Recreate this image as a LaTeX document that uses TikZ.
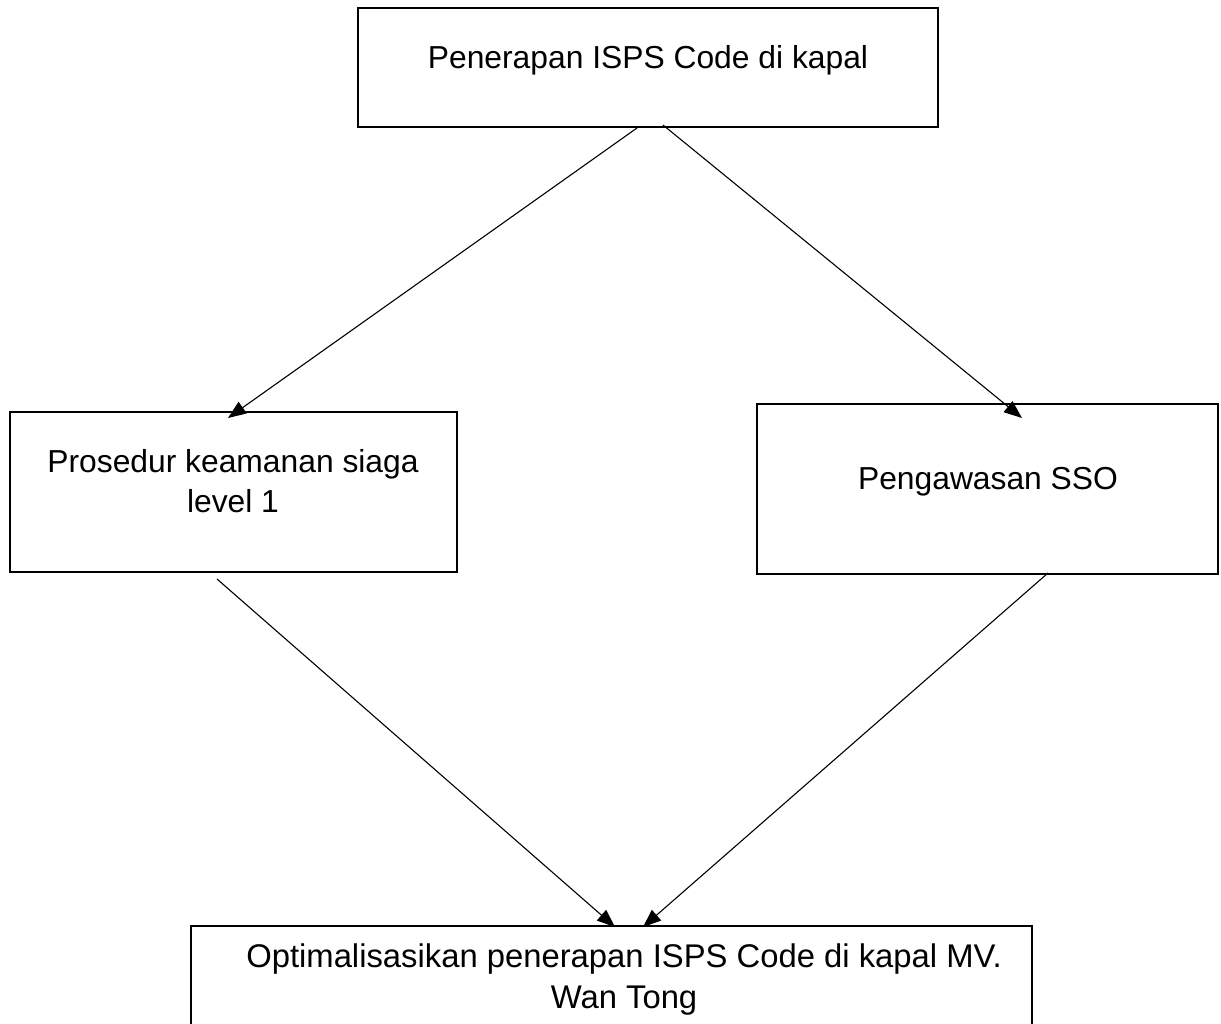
\documentclass[tikz,border=0pt]{standalone}
\usepackage{fontspec}
\setmainfont{Liberation Sans}
\usetikzlibrary{arrows.meta}
\tikzset{
  box/.style={draw=black, line width=2pt, inner sep=0pt, fill=none},
  label/.style={inner sep=0pt, anchor=base, font=\fontsize{31.8}{40}\selectfont, align=center},
  flow/.style={draw=black, line width=1.1pt, -{Triangle[length=18pt,width=14pt]}}
}
\begin{document}
\begin{tikzpicture}[x=1pt, y=-1pt]
  \useasboundingbox (0,0) rectangle (1221,1023);
  \clip (0,0) rectangle (1221,1023);
  \fill[white] (0,0) rectangle (1221,1023);

  % boxes
  \node[box, minimum width=580pt, minimum height=119pt] (top) at (648,67.5) {};
  \node[box, minimum width=447pt, minimum height=160pt] (left) at (233.5,492) {};
  \node[box, minimum width=461pt, minimum height=170pt] (right) at (987.5,489) {};
  \node[box, minimum width=841pt, minimum height=140pt] (bottom) at (611.5,996) {};

  % texts
  \node[label] (ttop) at (648,68) {Penerapan ISPS Code di kapal};
  \node[label] (tleft1) at (233,472) {Prosedur keamanan siaga};
  \node[label] (tleft2) at (233,512) {level 1};
  \node[label] (tright) at (988,489) {Pengawasan SSO};
  \node[label, font=\fontsize{32.8}{40}\selectfont] (tbot1) at (624,967) {Optimalisasikan penerapan ISPS Code di kapal MV.};
  \node[label, font=\fontsize{32.8}{40}\selectfont] (tbot2) at (624,1008) {Wan Tong};

  % connector end points
  \coordinate (s1) at (637,128);
  \coordinate (e1) at (228,418);
  \coordinate (s2) at (663,125);
  \coordinate (e2) at (1022,418);
  \coordinate (s3) at (217,579);
  \coordinate (e3) at (615,927);
  \coordinate (s4) at (1048,573);
  \coordinate (e4) at (643,927);

  % connectors
  \draw[flow] (s1) -- (e1);
  \draw[flow] (s2) -- (e2);
  \draw[flow] (s3) -- (e3);
  \draw[flow] (s4) -- (e4);
\end{tikzpicture}
\end{document}
